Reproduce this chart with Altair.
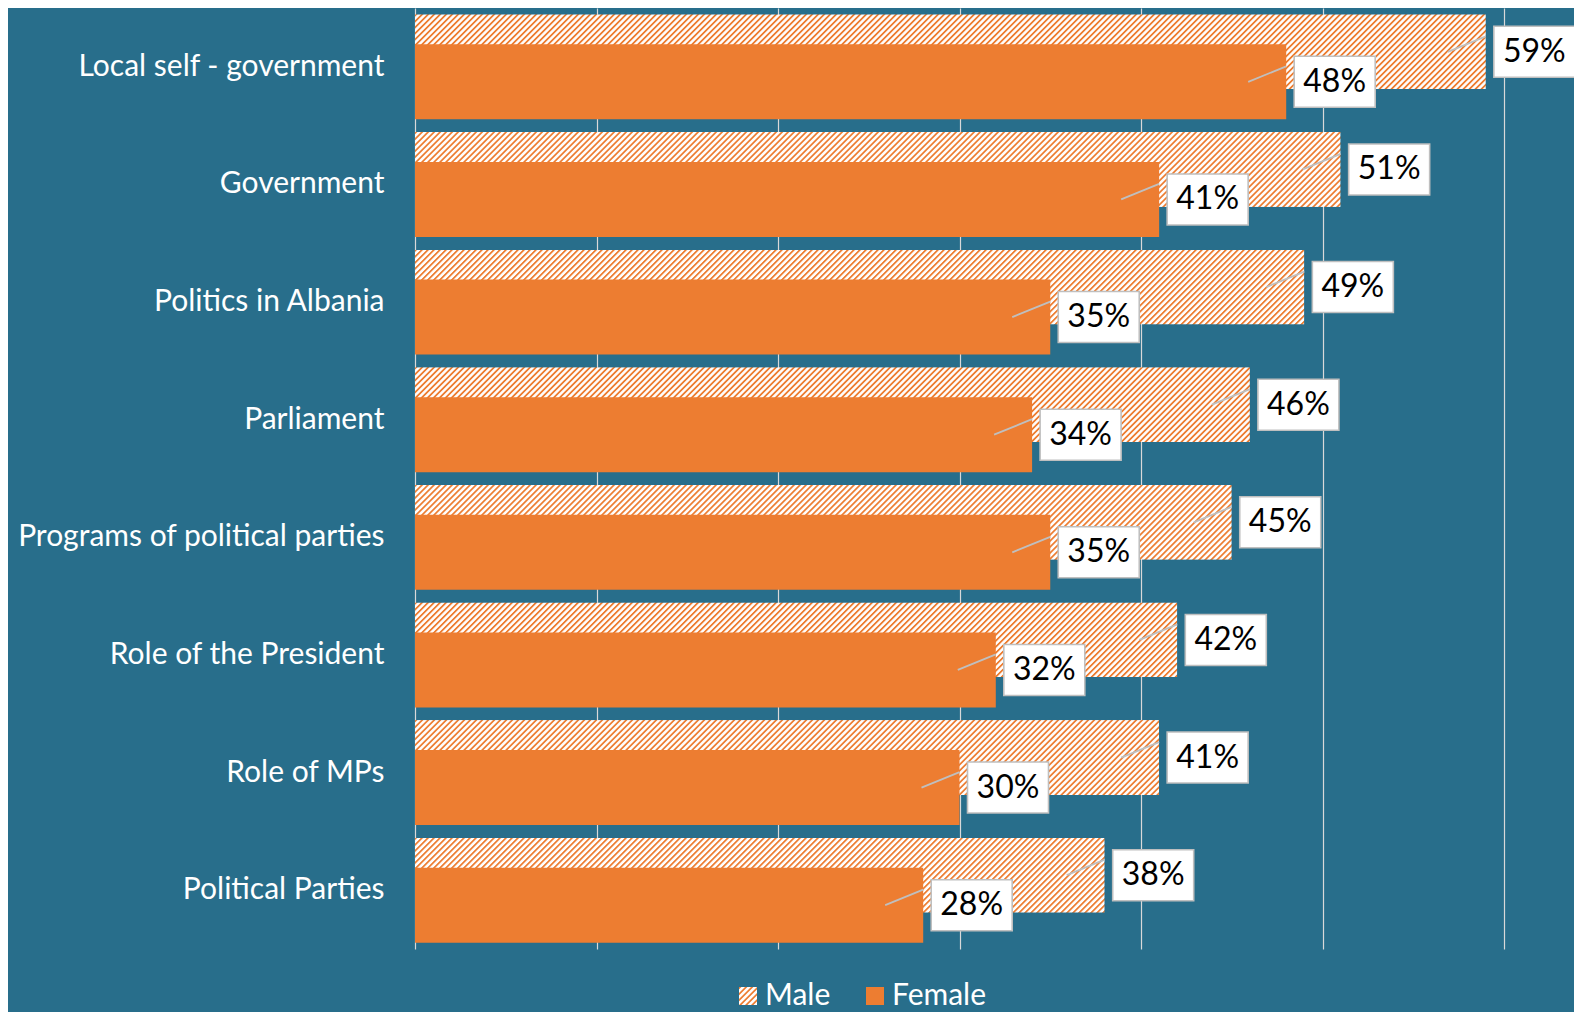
import base64
import altair as alt
import pandas as pd

# ---------------- data ----------------
categories = ["Local self - government", "Government", "Politics in Albania", "Parliament",
              "Programs of political parties", "Role of the President", "Role of MPs",
              "Political Parties"]
male = [59, 51, 49, 46, 45, 42, 41, 38]
female = [48, 41, 35, 34, 35, 32, 30, 28]
series = ["Male", "Female"]

# ---------------- style ----------------
BG = "#286E8B"
ORANGE = "#ED7D31"
GRID = "#D9D9D9"
LEADER = "#BFBFBF"
FONT = "Lato"

W_PLOT = 1089
H_PLOT = 941
X_MAX = 60
BAR_H = 75
PX = W_PLOT / X_MAX


def hatch_uri(w, h, period=6.0, ink=2.5):
    """SVG image (data URI) of a white tile with orange '/' diagonal hatching."""
    p = period / 2 ** 0.5
    k = ink / 2 ** 0.5
    svg = (
        f"<svg xmlns='http://www.w3.org/2000/svg' width='{w:.2f}' height='{h:.2f}' "
        f"viewBox='0 0 {w:.2f} {h:.2f}' preserveAspectRatio='none'>"
        f"<defs><pattern id='p' patternUnits='userSpaceOnUse' width='{p:.4f}' height='20' "
        f"patternTransform='rotate(45)'>"
        f"<rect width='{p:.4f}' height='20' fill='#FFFFFF'/>"
        f"<rect width='{k:.4f}' height='20' fill='{ORANGE}'/></pattern></defs>"
        f"<rect width='100%' height='100%' fill='url(#p)'/></svg>"
    )
    return "data:image/svg+xml;base64," + base64.b64encode(svg.encode()).decode()


df_m = pd.DataFrame({"category": categories, "value": male, "series": series[0]})
df_f = pd.DataFrame({"category": categories, "value": female, "series": series[1]})

y_enc = alt.Y("category:N", sort=categories,
              scale=alt.Scale(domain=categories, paddingInner=0, paddingOuter=0),
              axis=alt.Axis(title=None, ticks=False, domain=False, labelColor="white",
                            labelFont=FONT, labelFontSize=30, labelPadding=31,
                            labelLimit=420))
x_scale = alt.Scale(domain=[0, X_MAX], nice=False, zero=True)
x_axis = alt.Axis(values=list(range(0, X_MAX + 1, 10)), labels=False, ticks=False,
                  domain=False, title=None, grid=True, gridColor=GRID, gridWidth=1.2)


def X(field):
    return alt.X(field, type="quantitative", scale=x_scale, axis=x_axis)


layers = []

# male hatched bars: a hatched image per bar, anchored at x = 0 of the scale
for c, v in zip(categories, male):
    w = v * PX
    layers.append(
        alt.Chart(df_m).transform_filter(alt.datum.category == c)
        .transform_calculate(start="0")
        .mark_image(width=w, height=BAR_H, aspect=False, align="left",
                    baseline="middle", yOffset=-15)
        .encode(x=X("start"), y=y_enc, url=alt.value(hatch_uri(w, BAR_H)))
    )

# female solid bars
layers.append(
    alt.Chart(df_f).mark_bar(color=ORANGE, height=BAR_H, yOffset=15)
    .encode(x=X("value"), y=y_enc)
)

for d, off in ((df_m, -15), (df_f, 15)):
    # leader lines
    layers.append(
        alt.Chart(d).transform_calculate(x0=f"datum.value - {38 / PX:.4f}")
        .mark_rule(color=LEADER, strokeWidth=1.8, yOffset=off, y2Offset=off - 15.5)
        .encode(x=X("x0"), x2=alt.X2("value"), y=y_enc, y2=alt.Y2("category"))
    )
    # label boxes
    layers.append(
        alt.Chart(d).mark_bar(fill="white", stroke=LEADER, strokeWidth=1.6, height=51,
                              yOffset=off, xOffset=8, x2Offset=89)
        .encode(x=X("value"), x2=alt.X2("value"), y=y_enc)
    )
    # label text
    layers.append(
        alt.Chart(d).transform_calculate(label="datum.value + '%'")
        .mark_text(dx=48.5, yOffset=off, align="center", baseline="middle",
                   font=FONT, fontSize=32, color="black")
        .encode(x=X("value"), y=y_enc, text="label:N")
    )

# legend
leg = pd.DataFrame({"series": series})
layers.append(
    alt.Chart(leg).transform_filter(alt.datum.series == series[0])
    .mark_image(width=18, height=18, aspect=False, align="left", baseline="top")
    .encode(x=alt.value(324), y=alt.value(979), url=alt.value(hatch_uri(18, 18)))
)
layers.append(
    alt.Chart(leg).transform_filter(alt.datum.series == series[1])
    .mark_rect(fill=ORANGE)
    .encode(x=alt.value(451), x2=alt.value(469), y=alt.value(979), y2=alt.value(997))
)
layers.append(
    alt.Chart(leg).transform_filter(alt.datum.series == series[0])
    .mark_text(align="left", baseline="alphabetic", font=FONT, fontSize=30, color="white")
    .encode(x=alt.value(350), y=alt.value(997), text="series:N")
)
layers.append(
    alt.Chart(leg).transform_filter(alt.datum.series == series[1])
    .mark_text(align="left", baseline="alphabetic", font=FONT, fontSize=30, color="white")
    .encode(x=alt.value(477), y=alt.value(997), text="series:N")
)

chart = (
    alt.layer(*layers)
    .properties(width=W_PLOT, height=H_PLOT, background=BG,
                padding={"left": 407, "top": 0, "right": 70, "bottom": 63},
                autosize=alt.AutoSizeParams(type="none"))
    .configure_view(stroke=None)
)

chart.save("out.html", embed_options={"renderer": "svg", "actions": False})
